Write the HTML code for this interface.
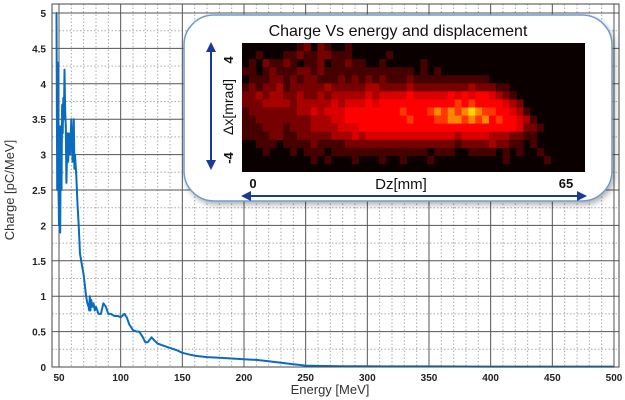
<!DOCTYPE html>
<html><head><meta charset="utf-8"><style>
html,body{margin:0;padding:0;background:#fff}
svg{display:block;font-family:"Liberation Sans",sans-serif}
</style></head><body>
<svg id="chart" width="625" height="400" viewBox="0 0 625 400">
<defs>
<filter id="sh" x="-10%" y="-10%" width="130%" height="130%"><feDropShadow dx="2" dy="3" stdDeviation="3" flood-color="#000" flood-opacity="0.3"/></filter>
<marker id="ah" viewBox="0 0 10 10" refX="8" refY="5" markerWidth="5" markerHeight="5" orient="auto-start-reverse"><path d="M0,0 L10,5 L0,10 z" fill="#1a3a9a"/></marker>
</defs>
<g id="grid"></g>
<g id="series"></g>
<g id="axes"></g>
<text x="14" y="190" transform="rotate(-90 14 190)" text-anchor="middle" font-size="13" fill="#333">Charge [pC/MeV]</text>
<text x="330" y="394" text-anchor="middle" font-size="13" fill="#333">Energy [MeV]</text>
<g>
<rect x="184" y="15" width="428" height="186" rx="30" ry="30" fill="#fff" stroke="#6f9ccc" stroke-width="1.5" filter="url(#sh)"/>
<text x="398" y="36" text-anchor="middle" font-size="16" fill="#111">Charge Vs energy and displacement</text>
<rect x="242" y="43" width="343" height="129" fill="#0a0000"/>
<g id="heat"></g>
<line x1="211" y1="44" x2="211" y2="168" stroke="#1a3a9a" stroke-width="2" marker-start="url(#ah)" marker-end="url(#ah)"/>
<text x="233" y="107" transform="rotate(-90 233 107)" text-anchor="middle" font-size="14" fill="#111">Δx[mrad]</text>
<text x="233" y="60" transform="rotate(-90 233 60)" text-anchor="middle" font-size="13" font-weight="bold" fill="#111">4</text>
<text x="233" y="158" transform="rotate(-90 233 158)" text-anchor="middle" font-size="13" font-weight="bold" fill="#111">-4</text>
<text x="253" y="188" text-anchor="middle" font-size="13" font-weight="bold" fill="#111">0</text>
<text x="401" y="189" text-anchor="middle" font-size="15" fill="#111">Dz[mm]</text>
<text x="566" y="188" text-anchor="middle" font-size="13" font-weight="bold" fill="#111">65</text>
<line x1="243" y1="196" x2="585" y2="196" stroke="#1a3a9a" stroke-width="2" marker-start="url(#ah)" marker-end="url(#ah)"/>
</g>
</svg>
<script>
const energy=[47.5,48,48.5,49,49.5,50,50.5,51,51.5,52,52.5,53,53.5,54,54.5,55,55.5,56,57,57.5,58,59,60,61,62,62.5,63,64,65,66,67,68,69,70,71,72,73,74,74.5,75,75.5,76,77,78,79,80,82,84,86,88,90,92,95,98,100,103,105,107,110,113,115,118,120,122,125,127,130,135,140,145,150,155,160,170,180,190,200,210,220,230,240,245,250,260,280,300,350,400,450,500];
const charge=[5,5,2.5,4.3,2.6,2.0,3.4,1.9,3.4,2.5,3.7,3.3,3.8,3.5,4.2,3.6,3.4,2.6,3.3,2.9,3.3,3.0,3.5,2.9,3.5,2.8,3.0,2.7,2.3,2.0,1.6,1.5,1.4,1.3,1.15,1.0,0.9,0.85,0.8,1.0,0.8,0.95,0.85,0.9,0.8,0.85,0.75,0.75,0.9,0.85,0.75,0.75,0.72,0.72,0.7,0.75,0.7,0.6,0.52,0.5,0.5,0.42,0.35,0.35,0.42,0.38,0.33,0.3,0.27,0.24,0.2,0.18,0.16,0.14,0.13,0.12,0.11,0.1,0.08,0.06,0.04,0.03,0.02,0.015,0.01,0.01,0.008,0.006,0.005,0.005];
const xTicks=[50,100,150,200,250,300,350,400,450,500];
const yTicks=[0,0.5,1,1.5,2,2.5,3,3.5,4,4.5,5];
const yTickLabels=["0","0.5","1","1.5","2","2.5","3","3.5","4","4.5","5"];
const heatRows=[
"00000000120210010000000000000000000000000000000000",
"00100011211221110000010000000000000000000000000000",
"01021121011201121100100000100000000000000000000000",
"11012111221211111111111110101000000000000000000000",
"01112212122111212121211121111111111100000000000000",
"12122312222232222233222232222222232221100000000000",
"22323322322323333343444454444454545543210000000000",
"22233332333334344454555565566667676665432000000000",
"12222222334344455566666766678787898776543100000000",
"11222222223334455566666676667788787867654310000000",
"11122212223333444555565665666666666655554221000000",
"11112211222223334344444444444443444433322110000000",
"00111011112111122222222222222221222232211010000000",
"00010001011101111111111111101110011110101001000000",
"00000000001010001000100100010000000000100000100000",
"00000000000000000000000000000000000000000000000000"];
const NS="http://www.w3.org/2000/svg";
const X0=59,PX=1.2333,Y0=367,PY=70.8,L=52,R=619,T=4,B=367;
function xs(e){return X0+(e-50)*PX;}
function ys(v){return Y0-v*PY;}
function mk(tag,attrs,parent){const el=document.createElementNS(NS,tag);for(const k in attrs)el.setAttribute(k,attrs[k]);parent.appendChild(el);return el;}
const grid=document.getElementById('grid'),axes=document.getElementById('axes'),series=document.getElementById('series'),heat=document.getElementById('heat');
for(let e=50;e<=500;e+=10){if(e%50===0)continue;const l=mk('line',{x1:xs(e),x2:xs(e),y1:T,y2:B,stroke:'#aaa','stroke-width':1,'stroke-dasharray':'1.5,2'},grid);

}
for(let v=0.25;v<5;v+=0.5){const l=mk('line',{x1:L,x2:R,y1:ys(v),y2:ys(v),stroke:'#aaa','stroke-width':1,'stroke-dasharray':'1.5,2'},grid);

}
xTicks.forEach(e=>{const l=mk('line',{x1:xs(e),x2:xs(e),y1:T,y2:B,stroke:'#555','stroke-width':1},grid);


const t=mk('text',{x:xs(e),y:381,'text-anchor':'middle','font-size':10,'font-weight':'bold',fill:'#222'},axes);t.textContent=e;

});
yTicks.forEach((v,i)=>{const l=mk('line',{x1:L,x2:R,y1:ys(v),y2:ys(v),stroke:'#555','stroke-width':1},grid);


const t=mk('text',{x:46,y:ys(v)+4,'text-anchor':'end','font-size':10,'font-weight':'bold',fill:'#222'},axes);t.textContent=yTickLabels[i];

});
const frame=mk('rect',{x:L,y:T,width:R-L,height:B-T,fill:'none',stroke:'#444','stroke-width':1},axes);


let d='';energy.forEach((e,i)=>{d+=(i?'L':'M')+xs(e).toFixed(1)+','+ys(Math.min(charge[i],5)).toFixed(1);});
const p=mk('path',{d:d,fill:'none',stroke:'#0a6cc0','stroke-width':2,'stroke-linejoin':'round'},series);


const HX=242,HY=43,HW=343,HH=129,nr=heatRows.length,nc=heatRows[0].length,cw=HW/nc,ch=HH/nr;
function col(v){const t=v/9;const r=Math.round(Math.min(1,t*1.9)*235)+20;const g=Math.round(Math.max(0,(t-0.7)/0.3)*215);return 'rgb('+Math.min(255,r)+','+g+',0)';}
heatRows.forEach((row,ri)=>{for(let ci=0;ci<nc;ci++){const v=+row[ci];if(!v)continue;
const c=mk('rect',{x:(HX+ci*cw).toFixed(2),y:(HY+ri*ch).toFixed(2),width:(cw+0.3).toFixed(2),height:(ch+0.3).toFixed(2),fill:col(v)},heat);

}});
</script>
</body></html>
